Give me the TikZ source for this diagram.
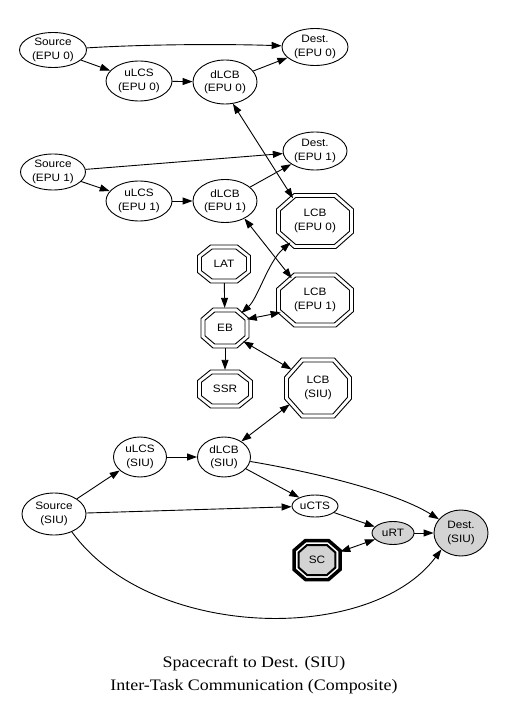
\documentclass[tikz,border=0pt]{standalone}
\usepackage{fontspec}
\usetikzlibrary{arrows.meta,shapes.geometric,backgrounds}
\newfontfamily\nodefont{Liberation Sans}[FakeStretch=1.1]
\newfontfamily\titlefont{Liberation Serif}[FakeStretch=1.12]
\definecolor{nodegray}{RGB}{211,211,211}
\tikzset{
  base/.style={font=\nodefont\fontsize{10.7}{13.5}\selectfont, align=center, inner sep=0pt},
  ell/.style={base, ellipse, draw, line width=0.9pt},
  oct/.style={base, ellipse},
  arr/.style={line width=0.9pt, -{Triangle[length=10pt,width=7pt]}},
  biarr/.style={line width=0.9pt, {Triangle[length=10pt,width=7pt]}-{Triangle[length=10pt,width=7pt]}},
  octline/.style={line width=0.9pt},
}
% octagon path: W, H, chamfer x, chamfer y
\newcommand\octshape[4]{({-(#1)/2+(#3)},{-(#2)/2}) -- ({(#1)/2-(#3)},{-(#2)/2}) -- ({(#1)/2},{-(#2)/2+(#4)}) -- ({(#1)/2},{(#2)/2-(#4)}) -- ({(#1)/2-(#3)},{(#2)/2}) -- ({-(#1)/2+(#3)},{(#2)/2}) -- ({-(#1)/2},{(#2)/2-(#4)}) -- ({-(#1)/2},{-(#2)/2+(#4)}) -- cycle}
\newcommand\dbloct[5]{%
  \draw[octline,shift={(#1.center)}] \octshape{#2}{#3}{#4}{#5};
  \draw[octline,shift={(#1.center)}] \octshape{#2-8}{#3-8}{#4-2.3}{#5-2.3};}
\begin{document}
\begin{tikzpicture}[x=1pt,y=-1pt]
\path[use as bounding box] (0,0) rectangle (505,708);

% EPU 0
\node[ell, minimum width=67pt, minimum height=35pt] (S0) at (53,50) {Source\\(EPU 0)};
\node[ell, minimum width=66pt, minimum height=37pt] (D0) at (315,47) {Dest.\\(EPU 0)};
\node[ell, minimum width=66pt, minimum height=40pt] (U0) at (139,81) {uLCS\\(EPU 0)};
\node[ell, minimum width=64pt, minimum height=44pt] (L0) at (225,82) {dLCB\\(EPU 0)};
% EPU 1
\node[ell, minimum width=65pt, minimum height=36pt] (S1) at (53,172) {Source\\(EPU 1)};
\node[ell, minimum width=64pt, minimum height=38pt] (D1) at (315,151) {Dest.\\(EPU 1)};
\node[ell, minimum width=66pt, minimum height=40pt] (U1) at (139,201) {uLCS\\(EPU 1)};
\node[ell, minimum width=64pt, minimum height=43pt] (L1) at (225,201) {dLCB\\(EPU 1)};
% octagons
\node[oct, minimum width=77pt, minimum height=55pt] (LCB0) at (315,221) {LCB\\(EPU 0)};
\node[oct, minimum width=53pt, minimum height=38pt] (LAT) at (224,264) {LAT};
\node[oct, minimum width=77pt, minimum height=54pt] (LCB1) at (315,300) {LCB\\(EPU 1)};
\node[oct, minimum width=48pt, minimum height=40pt] (EB) at (225,328) {EB};
\node[oct, minimum width=55pt, minimum height=38pt] (SSR) at (225,389) {SSR};
\node[oct, minimum width=67pt, minimum height=60pt] (LCBS) at (318,388) {LCB\\(SIU)};
% SIU
\node[ell, minimum width=53pt, minimum height=40pt] (US) at (140,457) {uLCS\\(SIU)};
\node[ell, minimum width=53pt, minimum height=40pt] (DS) at (224,457) {dLCB\\(SIU)};
\node[ell, minimum width=64pt, minimum height=42pt] (SS) at (54,514) {Source\\(SIU)};
\node[ell, minimum width=46pt, minimum height=22pt] (UCTS) at (315,506) {uCTS};
\node[ell, fill=nodegray, minimum width=42pt, minimum height=23pt] (URT) at (393,533) {uRT};
\node[ell, fill=nodegray, minimum width=54pt, minimum height=46pt] (DSIU) at (461,533) {Dest.\\(SIU)};
\node[oct, minimum width=50pt, minimum height=43pt] (SC) at (317,560) {SC};

\begin{scope}[on background layer]
  \fill[white] (0,0) rectangle (505,708);
  \dbloct{LCB0}{77}{55}{17.5}{15.5}
  \dbloct{LCB1}{77}{54}{17.5}{15.5}
  \dbloct{LCBS}{67}{60}{17}{19}
  \dbloct{LAT}{53}{38}{13}{10.5}
  \dbloct{EB}{48}{40}{12}{10.5}
  \dbloct{SSR}{55}{38}{13}{10.5}
  \fill[nodegray,shift={(SC.center)}] \octshape{36.8}{30}{8.5}{7.5};
  \draw[line width=2pt,shift={(SC.center)}] \octshape{36.8}{30}{8.5}{7.5};
  \draw[line width=3.5pt,shift={(SC.center)}] \octshape{46}{39}{11.5}{10};
\end{scope}

% edges EPU 0
\draw[arr] (S0) .. controls (150,44) and (230,44) .. (D0);
\draw[arr] (S0) -- (U0);
\draw[arr] (U0) -- (L0);
\draw[arr] (L0) -- (D0);
\draw[biarr] (L0.-70) -- (LCB0.134);
% edges EPU 1
\draw[arr] (S1) -- (D1);
\draw[arr] (S1) -- (U1);
\draw[arr] (U1) -- (L1);
\draw[arr] (L1) -- (D1);
\draw[biarr] (L1.-42) -- (LCB1.137);
% EB
\draw[biarr] (EB) .. controls (258,298) and (268,262) .. (LCB0);
\draw[arr] (LAT) -- (EB);
\draw[biarr] (EB.22) -- (LCB1.200);
\draw[arr] (EB) -- (SSR);
\draw[biarr] (EB.-36) -- (LCBS.145);
% SIU
\draw[biarr] (DS.42) -- (LCBS.210);
\draw[arr] (SS) -- (US);
\draw[arr] (US) -- (DS);
\draw[arr] (DS) -- (UCTS);
\draw[arr] (DS) .. controls (330,475) and (400,495) .. (DSIU);
\draw[arr] (SS) -- (UCTS);
\draw[arr] (UCTS) -- (URT);
\draw[arr] (URT) -- (DSIU);
\draw[biarr] (SC) -- (URT);
\draw[arr] (SS.-45) .. controls (150,640) and (370,645) .. (DSIU.-140);

% title
\node[font=\titlefont\fontsize{16}{23.5}\selectfont, align=center, inner sep=0pt] (title) at (254,675) {Spacecraft to Dest. (SIU)\\Inter-Task Communication (Composite)};
\end{tikzpicture}
\end{document}
